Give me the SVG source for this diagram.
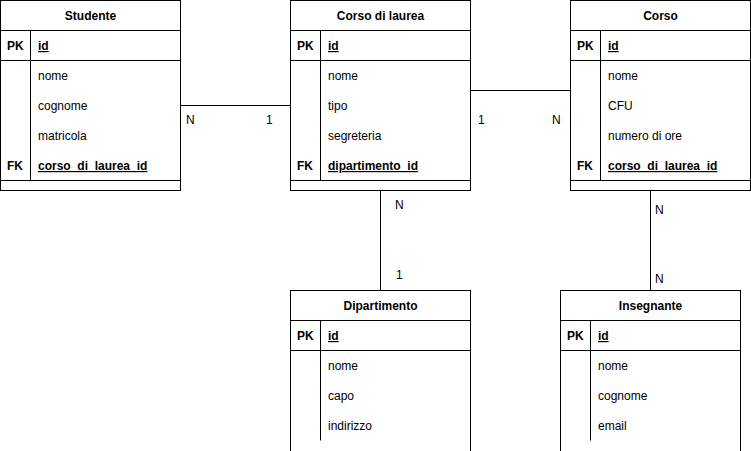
<svg xmlns="http://www.w3.org/2000/svg" width="751" height="451" viewBox="0 0 751 451">
<style>
text{font-family:"Liberation Sans",Arial,Helvetica,sans-serif;font-size:12px;fill:#000}
.t{font-weight:bold;text-anchor:middle}
.k{font-weight:bold}
.u{font-weight:bold;text-decoration:underline}
.box{fill:#fff;stroke:#000;stroke-width:1}
.ln{fill:none;stroke:#000;stroke-width:1}
</style>
<rect width="751" height="451" fill="#fff"/>
<g id="connectors">
<path class="ln" d="M180.5 105.5H290.5"/>
<path class="ln" d="M470.5 90.5H570.5"/>
<path class="ln" d="M380.5 190.5V290.5"/>
<path class="ln" d="M650.5 190.5V290.5"/>
<text x="186" y="124">N</text>
<text x="266" y="124">1</text>
<text x="478" y="124">1</text>
<text x="552" y="124">N</text>
<text x="395" y="209">N</text>
<text x="396" y="279">1</text>
<text x="655" y="214">N</text>
<text x="655" y="283">N</text>
</g>
<g id="studente">
<rect class="box" x="0.5" y="0.5" width="180" height="190"/>
<path class="ln" d="M0.5 30.5H180.5M0.5 60.5H180.5M0.5 180.5H180.5M30.5 30.5V180.5"/>
<text class="t" x="90.5" y="20">Studente</text>
<text class="k" x="7" y="50">PK</text>
<text class="u" x="38" y="50">id</text>
<text x="38" y="80">nome</text>
<text x="38" y="110">cognome</text>
<text x="38" y="140">matricola</text>
<text class="k" x="7" y="170">FK</text>
<text class="u" x="38" y="170">corso_di_laurea_id</text>
</g>
<g id="corso-di-laurea">
<rect class="box" x="290.5" y="0.5" width="180" height="190"/>
<path class="ln" d="M290.5 30.5H470.5M290.5 60.5H470.5M290.5 180.5H470.5M320.5 30.5V180.5"/>
<text class="t" x="380.5" y="20">Corso di laurea</text>
<text class="k" x="297" y="50">PK</text>
<text class="u" x="328" y="50">id</text>
<text x="328" y="80">nome</text>
<text x="328" y="110">tipo</text>
<text x="328" y="140">segreteria</text>
<text class="k" x="297" y="170">FK</text>
<text class="u" x="328" y="170">dipartimento_id</text>
</g>
<g id="corso">
<rect class="box" x="570.5" y="0.5" width="180" height="190"/>
<path class="ln" d="M570.5 30.5H750.5M570.5 60.5H750.5M570.5 180.5H750.5M600.5 30.5V180.5"/>
<text class="t" x="660.5" y="20">Corso</text>
<text class="k" x="577" y="50">PK</text>
<text class="u" x="608" y="50">id</text>
<text x="608" y="80">nome</text>
<text x="608" y="110">CFU</text>
<text x="608" y="140">numero di ore</text>
<text class="k" x="577" y="170">FK</text>
<text class="u" x="608" y="170">corso_di_laurea_id</text>
</g>
<g id="dipartimento">
<rect class="box" x="290.5" y="290.5" width="180" height="170"/>
<path class="ln" d="M290.5 320.5H470.5M290.5 350.5H470.5M320.5 320.5V440.5"/>
<text class="t" x="380.5" y="310">Dipartimento</text>
<text class="k" x="297" y="340">PK</text>
<text class="u" x="328" y="340">id</text>
<text x="328" y="370">nome</text>
<text x="328" y="400">capo</text>
<text x="328" y="430">indirizzo</text>
</g>
<g id="insegnante">
<rect class="box" x="560.5" y="290.5" width="180" height="170"/>
<path class="ln" d="M560.5 320.5H740.5M560.5 350.5H740.5M590.5 320.5V440.5"/>
<text class="t" x="650.5" y="310">Insegnante</text>
<text class="k" x="567" y="340">PK</text>
<text class="u" x="598" y="340">id</text>
<text x="598" y="370">nome</text>
<text x="598" y="400">cognome</text>
<text x="598" y="430">email</text>
</g>
</svg>
